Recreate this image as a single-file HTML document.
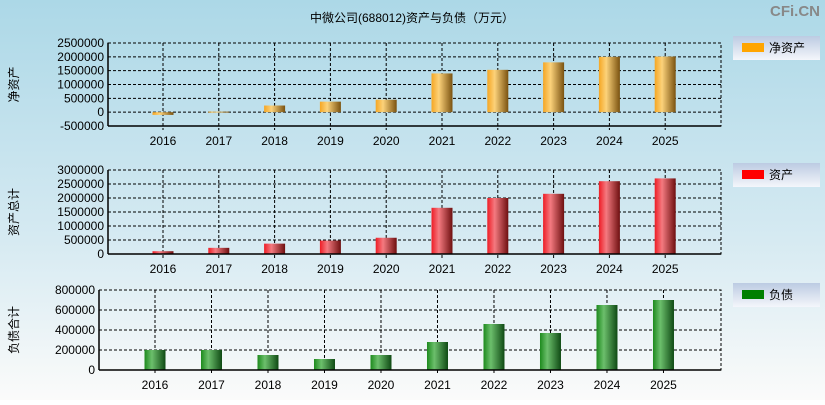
<!DOCTYPE html>
<html><head><meta charset="utf-8"><style>
body{margin:0;width:825px;height:400px;overflow:hidden;font-family:"Liberation Sans","Noto Sans CJK SC",sans-serif}
svg text{font-family:"Liberation Sans","Noto Sans CJK SC",sans-serif}
</style></head><body>
<svg id="c" width="825" height="400" xmlns="http://www.w3.org/2000/svg">
<defs>
<linearGradient id="bg" x1="0" y1="0" x2="0" y2="1"><stop offset="0" stop-color="#acd8e7"/><stop offset="0.6" stop-color="#d6eaf2"/><stop offset="1" stop-color="#fbfbfa"/></linearGradient>
<linearGradient id="lg" x1="0" y1="0" x2="0" y2="1"><stop offset="0" stop-color="#bccbe2"/><stop offset="1" stop-color="#f4f6fb"/></linearGradient>
<linearGradient id="gO" x1="0" x2="1"><stop offset="0" stop-color="#f5a623"/><stop offset="0.35" stop-color="#fcd27a"/><stop offset="1" stop-color="#7a5210"/></linearGradient>
<linearGradient id="gR" x1="0" x2="1"><stop offset="0" stop-color="#ee1c25"/><stop offset="0.35" stop-color="#f47a80"/><stop offset="1" stop-color="#6e0f10"/></linearGradient>
<linearGradient id="gG" x1="0" x2="1"><stop offset="0" stop-color="#1d8a1d"/><stop offset="0.35" stop-color="#6cbf6c"/><stop offset="1" stop-color="#0f4a14"/></linearGradient>
</defs>
<rect width="825" height="400" fill="url(#bg)"/>
<text x="412" y="22" font-size="12" text-anchor="middle" fill="#000">中微公司(688012)资产与负债（万元）</text>
<text x="820" y="16" font-size="15" font-weight="bold" text-anchor="end" fill="#888">CFi.CN</text>
</svg>
<script>
const years=["2016","2017","2018","2019","2020","2021","2022","2023","2024","2025"];
const netAssets=[-100000,20000,240000,380000,450000,1400000,1530000,1800000,2000000,2010000];
const totalAssets=[100000,220000,370000,480000,580000,1650000,2000000,2150000,2600000,2700000];
const liabilities=[200000,200000,150000,110000,150000,280000,460000,370000,650000,700000];
const ticks1=[-500000,0,500000,1000000,1500000,2000000,2500000];
const ticks2=[0,500000,1000000,1500000,2000000,2500000,3000000];
const ticks3=[0,200000,400000,600000,800000];
const NS="http://www.w3.org/2000/svg";
const svg=document.getElementById('c');
function mk(t,a,txt){const e=document.createElementNS(NS,t);for(const k in a)e.setAttribute(k,a[k]);if(txt!==undefined)e.textContent=txt;svg.appendChild(e);return e;}
function panel(p){
  const {x0,x1,y0,y1,min,max,ticks,data,fill,first,title,leg,legColor,legY,key,tickSize}=p;
  const y=v=>y1-(v-min)/(max-min)*(y1-y0);
  const step=(x1-x0-(first-x0))/ (years.length-0.02);
  const cx=i=>first+i*55.8*(p.sp||1);
  let e=mk('rect',{x:x0,y:y0,width:x1-x0,height:y1-y0,fill:'none',stroke:'#000','stroke-dasharray':'3,2'});
  
  
  ticks.forEach(t=>{
    const g=mk('line',{x1:x0,x2:x1,y1:y(t),y2:y(t),stroke:'#000','stroke-dasharray':'3,2'});
    
    
    const l=mk('text',{x:x0-4,y:y(t)+4,'font-size':12,'text-anchor':'end',fill:'#000'},String(t));
    
    
  });
  years.forEach((yr,i)=>{
    const g=mk('line',{x1:cx(i),x2:cx(i),y1:y0,y2:y1+4,stroke:'#000','stroke-dasharray':'3,2'});
    
    
    const v=data[i];const top=Math.min(y(v),y(0)),h=Math.max(Math.abs(y(v)-y(0)),1);
    const b=mk('rect',{x:cx(i)-10.5,y:top,width:21,height:h,fill:fill});
    
    
    const l=mk('text',{x:cx(i),y:y1+19,'font-size':12,'text-anchor':'middle',fill:'#000'},yr);
    
    
  });
  e=mk('line',{x1:x0,x2:x0,y1:y0,y2:y1,stroke:'#000','stroke-width':1.5});
  
  
  e=mk('line',{x1:x0,x2:x1,y1:y1,y2:y1,stroke:'#000','stroke-width':1.5});
  
  
  const ty=(y0+y1)/2;
  e=mk('text',{x:18,y:ty,'font-size':12,'text-anchor':'middle',fill:'#000',transform:'rotate(-90 18 '+ty+')'},title);
  
  
  e=mk('rect',{x:733,y:legY,width:87,height:24,fill:'url(#lg)'});
  
  
  e=mk('rect',{x:742,y:legY+7,width:22,height:9,fill:legColor});
  
  
  e=mk('text',{x:769,y:legY+16,'font-size':12,fill:'#000'},leg);
  
  
}
panel({key:'net-assets',x0:108,x1:721,y0:43,y1:126,min:-500000,max:2500000,ticks:ticks1,data:netAssets,fill:'url(#gO)',first:163,title:'净资产',leg:'净资产',legColor:'#ffa500',legY:36});
panel({key:'total-assets',x0:108,x1:721,y0:170,y1:254,min:0,max:3000000,ticks:ticks2,data:totalAssets,fill:'url(#gR)',first:163,title:'资产总计',leg:'资产',legColor:'#ff0000',legY:163});
panel({key:'liabilities',x0:99,x1:721,y0:290,y1:370,min:0,max:800000,ticks:ticks3,data:liabilities,fill:'url(#gG)',first:155,sp:1.0125,title:'负债合计',leg:'负债',legColor:'#008000',legY:283});
</script>
</body></html>
